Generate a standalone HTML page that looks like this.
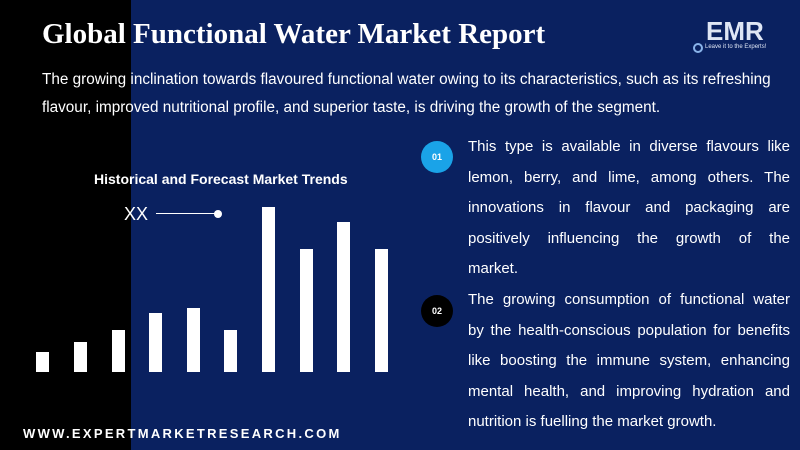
<!DOCTYPE html>
<html><head><style>
body{margin:0;width:800px;height:450px;overflow:hidden;background:#0a2160;font-family:"Liberation Sans",sans-serif;position:relative;color:#fff}
.blk{position:absolute;left:0;top:0;width:131px;height:450px;background:#000}
.t{position:absolute;left:42px;top:18px;font-family:"Liberation Serif",serif;font-weight:bold;font-size:29px;white-space:nowrap}
.sub{position:absolute;left:42px;top:66px;width:750px;font-size:15.3px;line-height:28px}
.bar{position:absolute;background:#fff;width:13px}
.ht{position:absolute;left:94px;top:171px;font-weight:bold;font-size:14px}
.p{position:absolute;left:468px;width:322px;font-size:15px;line-height:30.5px}
.p div{text-align:justify;text-align-last:justify;white-space:nowrap}
.p div.l{text-align-last:left}
.c{position:absolute;width:32px;height:32px;border-radius:50%;font-size:9px;text-align:center;line-height:32px;font-weight:bold}
.url{position:absolute;left:23px;top:426px;font-weight:bold;font-size:13px;letter-spacing:2.3px}
</style></head><body>
<div class="blk"></div>
<div class="t">Global Functional Water Market Report</div>
<div class="sub">The growing inclination towards flavoured functional water owing to its characteristics, such as its refreshing flavour, improved nutritional profile, and superior taste, is driving the growth of the segment.</div>
<div style="position:absolute;left:706px;top:16px;font-weight:bold;font-size:26px;color:#dfe6f5">EMR</div>
<div style="position:absolute;left:705px;top:44px;font-size:6px;color:#dfe6f5">Leave it to the Experts!</div>
<div style="position:absolute;left:693px;top:43px;width:6px;height:6px;border:2px solid #8ab4ea;border-radius:50%"></div>
<div class="ht">Historical and Forecast Market Trends</div>
<div style="position:absolute;left:124px;top:204px;font-size:18px;font-weight:300">XX</div>
<div style="position:absolute;left:156px;top:213px;width:62px;height:1px;background:#fff"></div>
<div style="position:absolute;left:214px;top:210px;width:8px;height:8px;border-radius:50%;background:#fff"></div>
<div class="bar" style="left:36px;top:352px;height:20px"></div>
<div class="bar" style="left:74px;top:342px;height:30px"></div>
<div class="bar" style="left:112px;top:330px;height:42px"></div>
<div class="bar" style="left:149px;top:313px;height:59px"></div>
<div class="bar" style="left:187px;top:308px;height:64px"></div>
<div class="bar" style="left:224px;top:330px;height:42px"></div>
<div class="bar" style="left:262px;top:207px;height:165px"></div>
<div class="bar" style="left:300px;top:249px;height:123px"></div>
<div class="bar" style="left:337px;top:222px;height:150px"></div>
<div class="bar" style="left:375px;top:249px;height:123px"></div>
<div class="c" style="left:421px;top:141px;background:#1aa3e8">01</div>
<div class="c" style="left:421px;top:295px;background:#000">02</div>
<div class="p" style="top:132px">
<div>This type is available in diverse flavours like</div>
<div>lemon, berry, and lime, among others. The</div>
<div>innovations in flavour and packaging are</div>
<div>positively influencing the growth of the</div>
<div class="l">market.</div>
</div>
<div class="p" style="top:285px">
<div>The growing consumption of functional water</div>
<div>by the health-conscious population for benefits</div>
<div>like boosting the immune system, enhancing</div>
<div>mental health, and improving hydration and</div>
<div class="l">nutrition is fuelling the market growth.</div>
</div>
<div class="url">WWW.EXPERTMARKETRESEARCH.COM</div>
</body></html>
